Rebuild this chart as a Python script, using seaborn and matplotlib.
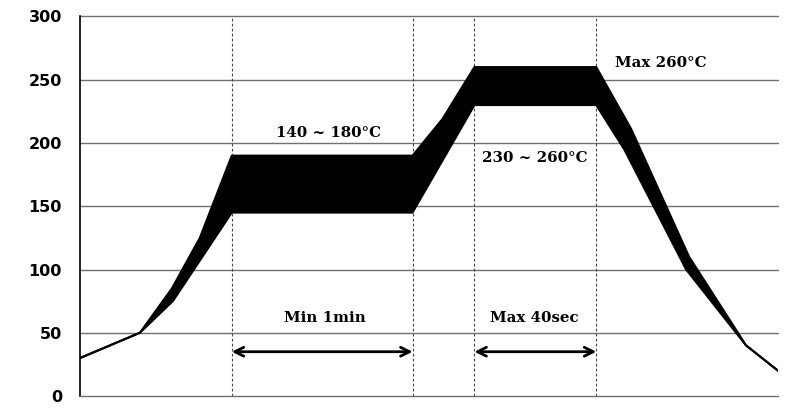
import matplotlib
matplotlib.use("Agg")
import matplotlib.pyplot as plt
import seaborn as sns
import numpy as np
import pandas as pd

# Profile data (time units arbitrary, temperature in degC)
upper_t = [0, 60, 92, 120, 152, 333, 363, 395, 517, 552, 610, 667, 699]
upper_T = [30, 50, 85, 125, 190, 190, 219, 260, 260, 211, 110, 40, 20]
lower_t = [0, 60, 93, 152, 333, 395, 517, 545, 607, 667, 699]
lower_T = [30, 50, 75, 145, 145, 230, 230, 195, 100, 40, 20]

zone_lines = [152, 333, 395, 517]
y_ticks = [0, 50, 100, 150, 200, 250, 300]

labels = ["140 ~ 180°C", "230 ~ 260°C", "Max 260°C", "Min 1min", "Max 40sec"]
label_x = [249, 455, 582, 245, 455]
label_y = [208, 188, 263, 62, 62]
arrows = [(152, 333), (395, 517)]
arrow_y = 35

sns.set_style("white")
fig = plt.figure(figsize=(7.85, 4.13), dpi=100)
ax = fig.add_axes([80/785, 1-396/413, 698/785, 379.5/413])

df_u = pd.DataFrame({"t": upper_t, "T": upper_T})
df_l = pd.DataFrame({"t": lower_t, "T": lower_T})

# horizontal grid
for yv in y_ticks[1:]:
    ax.axhline(yv, color="#707070", lw=1.0, zorder=1, clip_on=False)

for xv in zone_lines:
    ax.axvline(xv, color="#444444", lw=0.8, ls=(0, (2.5, 2)), zorder=1)

poly_x = np.concatenate([upper_t, lower_t[::-1]])
poly_y = np.concatenate([upper_T, lower_T[::-1]])
ax.fill(poly_x, poly_y, color="black", lw=0, zorder=3)
sns.lineplot(data=df_u, x="t", y="T", color="black", lw=1.5, ax=ax, zorder=4)
sns.lineplot(data=df_l, x="t", y="T", color="black", lw=1.5, ax=ax, zorder=4)

for txt, x, y in zip(labels, label_x, label_y):
    ax.text(x, y, txt, ha="center", va="center", fontsize=10.8, fontweight="bold",
            family="DejaVu Serif", color="black")

for x0, x1 in arrows:
    ax.annotate("", xy=(x1, arrow_y), xytext=(x0, arrow_y),
                arrowprops=dict(arrowstyle="<->", color="black", lw=2,
                                mutation_scale=16, shrinkA=0, shrinkB=0))

ax.set_xlim(0, 699)
ax.set_ylim(0, 300)
ax.set_yticks(y_ticks)
ax.set_xticks([])
ax.set_xlabel("")
ax.set_ylabel("")
ax.tick_params(axis="y", length=5, width=1, color="#707070", pad=8,
               labelsize=11.5, labelcolor="black")
for lab in ax.get_yticklabels():
    lab.set_fontweight("bold")
    lab.set_family("DejaVu Sans")
ax.spines["top"].set_visible(False)
ax.spines["right"].set_visible(False)
ax.spines["left"].set_color("black")
ax.spines["left"].set_linewidth(1.2)
ax.spines["bottom"].set_color("#707070")
ax.spines["bottom"].set_linewidth(1.0)

fig.savefig("out.png", dpi=100)
